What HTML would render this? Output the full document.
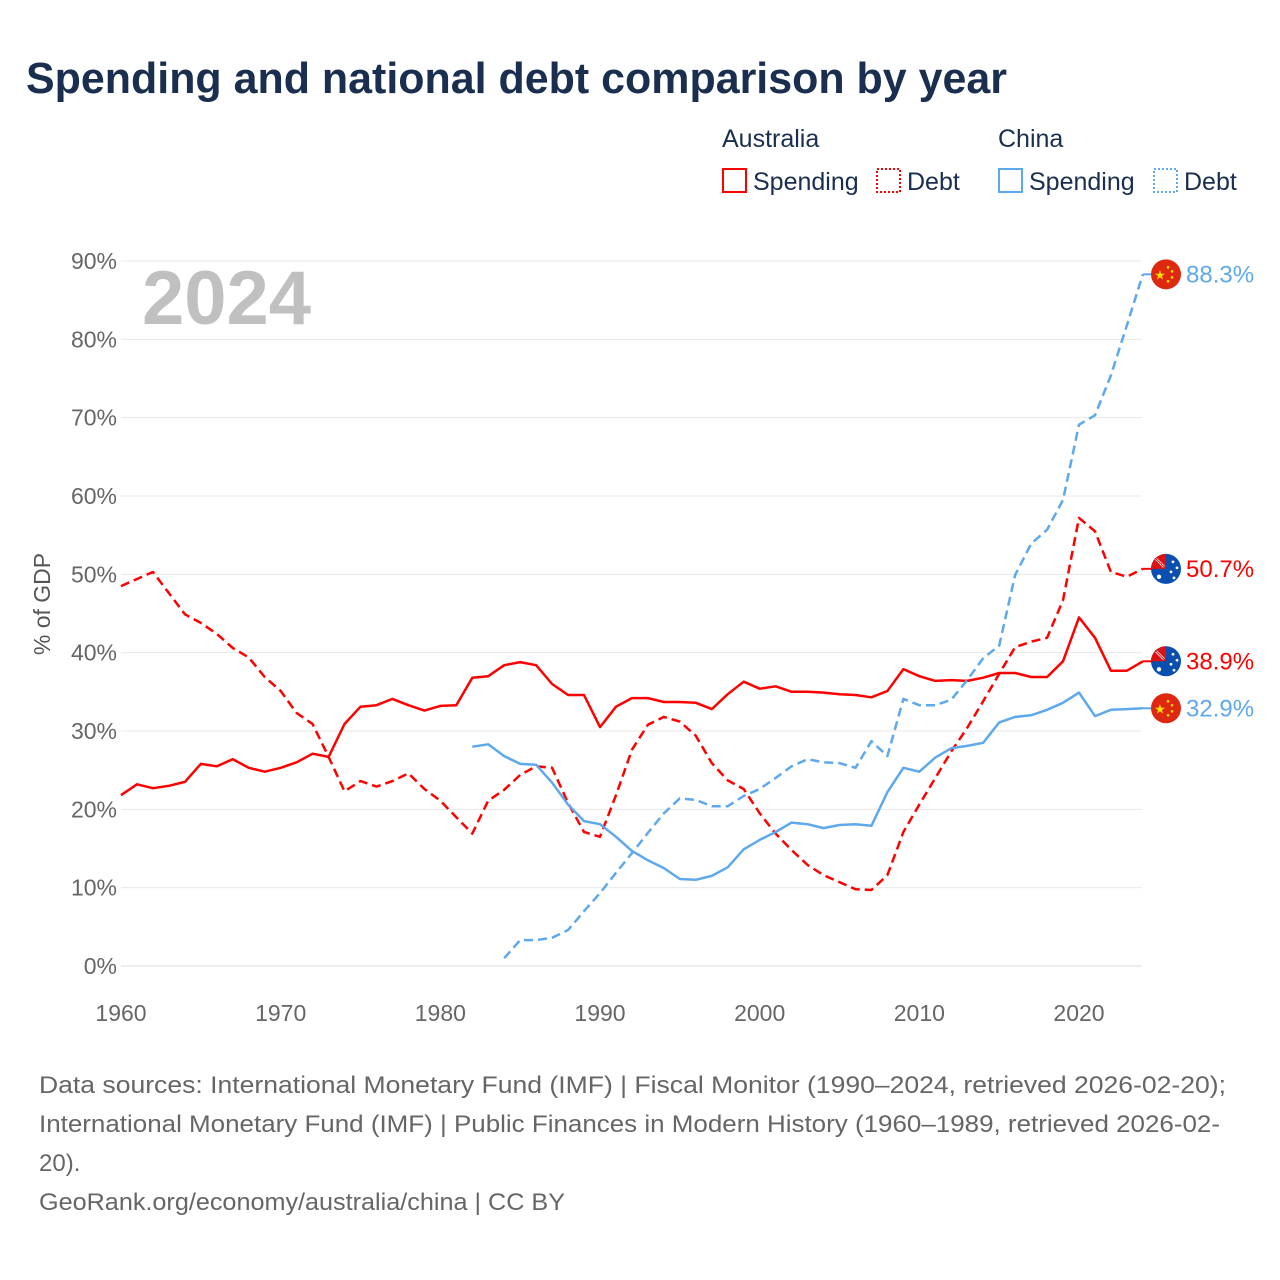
<!DOCTYPE html>
<html><head><meta charset="utf-8">
<style>
body{margin:0;background:#fff;font-family:"Liberation Sans",sans-serif;}
#wrap{position:relative;width:1280px;height:1280px;overflow:hidden;}
</style></head>
<body>
<div id="wrap">
<svg id="chart" width="1280" height="1280" xmlns="http://www.w3.org/2000/svg">
<text x="26" y="93" font-size="44" font-weight="bold" fill="#1a2e4f" textLength="981" lengthAdjust="spacingAndGlyphs">Spending and national debt comparison by year</text>
<g font-size="25" fill="#1a2e4f">
<text x="722" y="147">Australia</text>
<text x="998" y="147">China</text>
<g><rect x="723" y="169" width="23" height="23" fill="none" stroke="#f00" stroke-width="2"/><text x="753" y="190">Spending</text></g>
<g><rect x="877" y="169" width="23" height="23" fill="none" stroke="#f00" stroke-width="2" stroke-dasharray="2,2"/><text x="907" y="190">Debt</text></g>
<g><rect x="999" y="169" width="23" height="23" fill="none" stroke="#5ea8ec" stroke-width="2"/><text x="1029" y="190">Spending</text></g>
<g><rect x="1154" y="169" width="23" height="23" fill="none" stroke="#5ea8ec" stroke-width="2" stroke-dasharray="2,2"/><text x="1184" y="190">Debt</text></g>
</g>
<text x="142" y="324" font-size="76" font-weight="bold" fill="#c0c0c0">2024</text>
<text transform="translate(50,604) rotate(-90)" text-anchor="middle" font-size="23" fill="#555">% of GDP</text>
<g id="grid"></g><g id="series"></g><g id="ends"></g>
<g font-size="24" fill="#666">
<text x="39" y="1093" textLength="1187" lengthAdjust="spacingAndGlyphs">Data sources: International Monetary Fund (IMF) | Fiscal Monitor (1990–2024, retrieved 2026-02-20);</text>
<text x="39" y="1132" textLength="1181" lengthAdjust="spacingAndGlyphs">International Monetary Fund (IMF) | Public Finances in Modern History (1960–1989, retrieved 2026-02-</text>
<text x="39" y="1171">20).</text>
<text x="39" y="1210" textLength="526" lengthAdjust="spacingAndGlyphs">GeoRank.org/economy/australia/china | CC BY</text>
</g>
</svg>
</div>
<script>
const yTicks=[0,10,20,30,40,50,60,70,80,90];
const xTicks=[1960,1970,1980,1990,2000,2010,2020];
const ausSpendStart=1960;
const ausSpending=[21.8,23.2,22.7,23.0,23.5,25.8,25.5,26.4,25.3,24.8,25.3,26.0,27.1,26.7,30.9,33.1,33.3,34.1,33.3,32.6,33.2,33.3,36.8,37.0,38.4,38.8,38.4,36.0,34.6,34.6,30.5,33.1,34.2,34.2,33.7,33.7,33.6,32.8,34.7,36.3,35.4,35.7,35.0,35.0,34.9,34.7,34.6,34.3,35.1,37.9,37.0,36.4,36.5,36.4,36.8,37.4,37.4,36.9,36.9,38.9,44.5,41.9,37.7,37.7,38.9];
const ausDebtStart=1960;
const ausDebt=[48.5,49.4,50.3,47.6,44.9,43.8,42.4,40.6,39.4,36.9,35.1,32.3,30.9,26.7,22.3,23.6,22.9,23.6,24.6,22.6,21.1,19.0,16.9,21.1,22.5,24.4,25.5,25.3,20.8,17.1,16.5,21.8,27.6,30.8,31.8,31.2,29.4,25.9,23.7,22.6,19.5,16.9,14.8,12.9,11.6,10.7,9.8,9.7,11.6,17.1,20.6,24.0,27.4,30.4,33.8,37.3,40.7,41.4,41.9,46.7,57.2,55.5,50.3,49.7,50.7];
const chnSpendStart=1982;
const chnSpending=[28.0,28.3,26.8,25.8,25.7,23.4,20.6,18.5,18.1,16.5,14.7,13.5,12.5,11.1,11.0,11.5,12.6,14.9,16.1,17.1,18.3,18.1,17.6,18.0,18.1,17.9,22.2,25.3,24.8,26.6,27.8,28.1,28.5,31.1,31.8,32.0,32.7,33.6,34.9,31.9,32.7,32.8,32.9];
const chnDebtStart=1984;
const chnDebt=[1.0,3.3,3.3,3.6,4.6,7.0,9.3,11.9,14.4,17.0,19.5,21.4,21.2,20.4,20.4,21.7,22.6,24.0,25.5,26.4,26.0,25.9,25.3,28.7,26.8,34.1,33.3,33.3,34.0,36.5,39.3,40.9,49.9,53.9,55.7,59.5,69.1,70.3,75.4,81.8,88.3];

const NS="http://www.w3.org/2000/svg";
const xS=yr=>121+(yr-1960)*(958/60);
const yS=v=>966-v*(705/90);
function mk(tag,attrs,parent){const e=document.createElementNS(NS,tag);for(const k in attrs)e.setAttribute(k,attrs[k]);parent.appendChild(e);return e;}
const grid=document.getElementById('grid');
yTicks.forEach(t=>{
  const l=mk('line',{x1:121,x2:1142,y1:yS(t),y2:yS(t),stroke:t===0?'#ddd':'#e8e8e8','stroke-width':1},grid);
  
  
  const tx=mk('text',{x:117,y:yS(t)+8,'text-anchor':'end','font-size':23,fill:'#666'},grid);
  tx.textContent=t+'%';
  
  
});
xTicks.forEach(t=>{
  const tx=mk('text',{x:xS(t),y:1021,'text-anchor':'middle','font-size':23,fill:'#666'},grid);
  tx.textContent=t;
  
  
});
const ser=document.getElementById('series');
function drawLine(arr,start,color,dash,name){
  const d=arr.map((v,i)=>(i?'L':'M')+xS(start+i).toFixed(1)+','+yS(v).toFixed(1)).join('');
  const p=mk('path',{d:d,fill:'none',stroke:color,'stroke-width':2.5,'stroke-linejoin':'round'},ser);
  if(dash)p.setAttribute('stroke-dasharray','9,5');
  
  
}
drawLine(ausSpending,ausSpendStart,'#f00',false,'australia-spending-line');
drawLine(ausDebt,ausDebtStart,'#f00',true,'australia-debt-line');
drawLine(chnSpending,chnSpendStart,'#5ea8ec',false,'china-spending-line');
drawLine(chnDebt,chnDebtStart,'#5ea8ec',true,'china-debt-line');

const ends=document.getElementById('ends');
function endLabel(arr,start,color,country,name){
  const v=arr[arr.length-1], y=yS(v), x=1166;
  const g=mk('g',{},ends);
  
  
  mk('line',{x1:xS(start+arr.length-1),x2:x-14,y1:y,y2:y,stroke:color,'stroke-width':2},g);
  if(country==='cn'){
    mk('circle',{cx:x,cy:y,r:15,fill:'#de2910'},g);
    const s=mk('text',{x:x-6,y:y+5,'text-anchor':'middle','font-size':13,fill:'#ffde00'},g);s.textContent='★';
    [[2,-7],[6,-3],[6,3],[2,7]].forEach(p=>mk('circle',{cx:x+p[0],cy:y+p[1],r:1.3,fill:'#ffde00'},g));
  }else{
    mk('circle',{cx:x,cy:y,r:15,fill:'#0a4fb0'},g);
    mk('path',{d:`M${x-15},${y} A15,15 0 0 1 ${x},${y-15} L${x},${y} Z`,fill:'#d11'},g);
    mk('path',{d:`M${x-10},${y-10} L${x-2},${y-2}`,stroke:'#fff','stroke-width':2.5},g);
    mk('path',{d:`M${x-11},${y-11} L${x-2},${y-2}`,stroke:'#d11','stroke-width':1},g);
    [[-7,8,2.2],[7,-7,1.4],[11,-1,1.4],[5,3,1.4],[8,9,1.4]].forEach(p=>mk('circle',{cx:x+p[0],cy:y+p[1],r:p[2],fill:'#fff'},g));
  }
  const t=mk('text',{x:1186,y:y+8,'font-size':24,fill:color},g);
  t.textContent=v.toFixed(1)+'%';
}
endLabel(chnDebt,chnDebtStart,'#5ea8ec','cn','china-debt-end-label');
endLabel(ausDebt,ausDebtStart,'#f00','au','australia-debt-end-label');
endLabel(ausSpending,ausSpendStart,'#f00','au','australia-spending-end-label');
endLabel(chnSpending,chnSpendStart,'#5ea8ec','cn','china-spending-end-label');
</script>
</body></html>
